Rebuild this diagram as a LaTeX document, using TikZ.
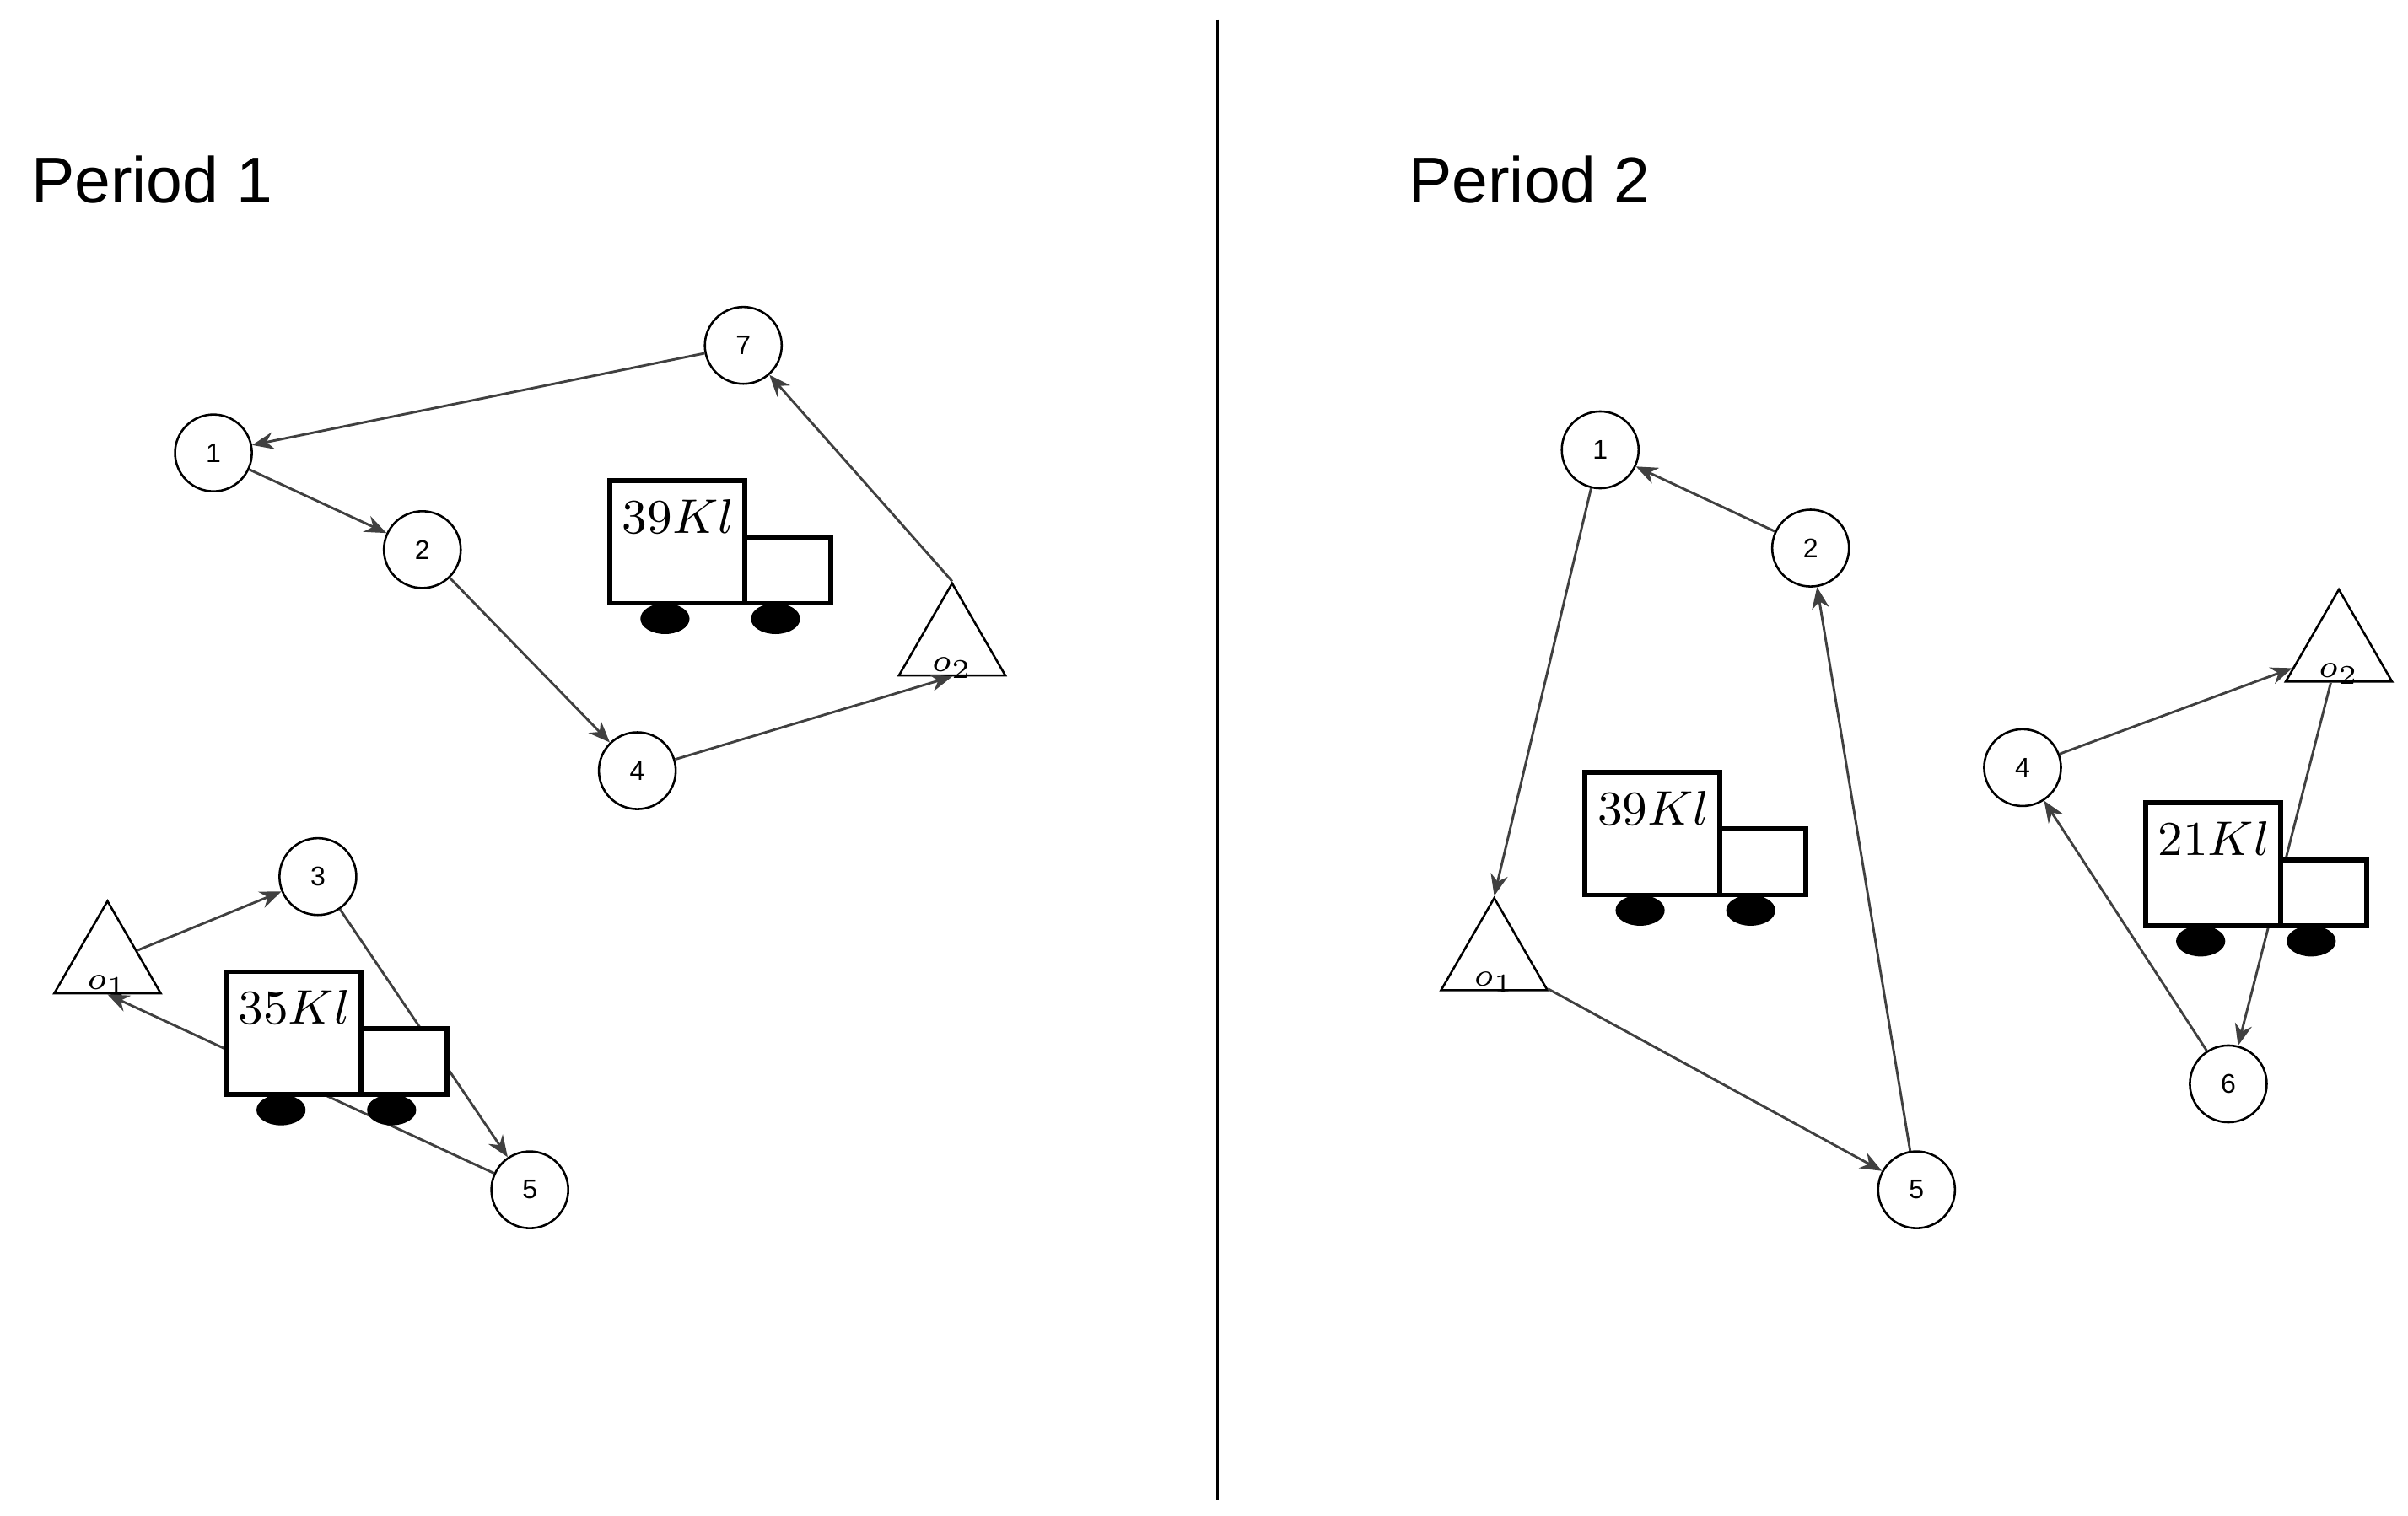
\documentclass[tikz,border=0pt]{standalone}
\usepackage{fontspec}
\setmainfont{Liberation Sans}
\usetikzlibrary{shapes.geometric,arrows.meta}
\begin{document}
\begin{tikzpicture}[x=0.01cm,y=-0.01cm,
  cnode/.style={circle,draw,line width=0.4pt,minimum size=0.5cm,inner sep=0pt,font=\fontsize{5}{6}\selectfont},
  tnode/.style={regular polygon,regular polygon sides=3,draw,line width=0.4pt,minimum size=0.8cm,inner sep=0pt,font=\fontsize{5}{6}\selectfont},
  edge/.style={draw=black!75,line width=0.45pt,-{Stealth[length=4pt,width=3.2pt]}},
  tbox/.style={draw,line width=0.9pt},
  title/.style={font=\fontsize{12}{14}\selectfont,anchor=west}]
\useasboundingbox (0,0) rectangle (1568,987);
\draw[line width=0.45pt] (793,13) -- (793,977);
\node[title] (t1) at (8,117) {Period 1};
\node[title] (t2) at (905,117) {Period 2};
% Period 1
\node[cnode] (a7) at (484,225) {7};
\node[cnode] (a1) at (139,295) {1};
\node[cnode] (a2) at (275,358) {2};
\node[cnode] (a4) at (415,502) {4};
\node[tnode] (ao2) at (620,420) {};
\node[font=\fontsize{6}{7}\selectfont] (ao2l) at (620,435) {$o_2$};
\node[cnode] (a3) at (207,571) {3};
\node[tnode] (ao1) at (70,627) {};
\node[font=\fontsize{6}{7}\selectfont] (ao1l) at (70,642) {$o_1$};
\node[cnode] (a5) at (345,775) {5};
\draw[edge] (a7) -- (a1);
\draw[edge] (a1) -- (a2);
\draw[edge] (a2) -- (a4);
\draw[edge] (a4) -- (ao2.south);
\draw[edge] (ao2.north) -- (a7);
\draw[edge] (ao1) -- (a3);
\draw[edge] (a3) -- (a5);
\draw[edge] (a5) -- (ao1.south);
% Period 2
\node[cnode] (b1) at (1042,293) {1};
\node[cnode] (b2) at (1179,357) {2};
\node[tnode] (bo1) at (973,625) {};
\node[font=\fontsize{6}{7}\selectfont] (bo1l) at (973,640) {$o_1$};
\node[cnode] (b5) at (1248,775) {5};
\node[cnode] (b4) at (1317,500) {4};
\node[tnode] (bo2) at (1523,424) {};
\node[font=\fontsize{6}{7}\selectfont] (bo2l) at (1523,439) {$o_2$};
\node[cnode] (b6) at (1451,706) {6};
\draw[edge] (b1) -- (bo1.north);
\draw[edge] (bo1) -- (b5);
\draw[edge] (b5) -- (b2);
\draw[edge] (b2) -- (b1);
\draw[edge] (b4) -- (bo2);
\draw[edge] (bo2) -- (b6);
\draw[edge] (b6) -- (b4);
% trucks
\foreach \x/\y/\lab [count=\i] in {397/313/39, 147/633/35, 1032/503/39, 1397/523/21}{
  \draw[tbox,fill=white] (\x,\y) rectangle ++(88,80);
  \draw[tbox,fill=white] (\x+88,\y+37) rectangle ++(56,43);
  \fill (\x+36,\y+90) ellipse (16 and 10);
  \fill (\x+108,\y+90) ellipse (16 and 10);
  \node[anchor=north west,font=\fontsize{9}{10}\selectfont,inner sep=1pt] (lab\i) at (\x+4,\y+8) {$\lab Kl$};
}
\end{tikzpicture}
\end{document}
